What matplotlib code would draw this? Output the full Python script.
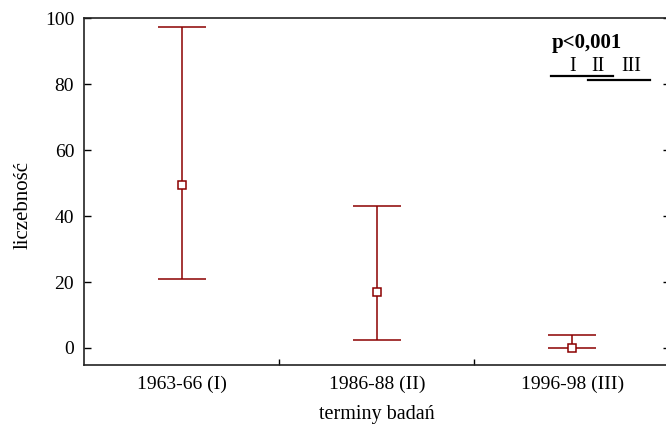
import matplotlib
matplotlib.use("Agg")
import matplotlib.pyplot as plt

# ==========================================================
# Data
# ==========================================================

categories = ["1963-66 (I)", "1986-88 (II)", "1996-98 (III)"]
means = [49.5, 17.0, 0.0]
upper = [97.2, 43.0, 4.0]
lower = [21.0, 2.5, 0.0]

y_ticks = [0, 20, 40, 60, 80, 100]

groups = ["I", "II", "III"]

color = "#8b0000"

plt.rcParams["font.family"] = ["Liberation Serif", "DejaVu Serif"]

# ==========================================================
# Figure
# ==========================================================

fig = plt.figure(figsize=(6.66, 4.25), dpi=100)
ax = fig.add_axes([0.126, 0.1412, 1.0056 - 0.126, 0.9576 - 0.1412])

x = list(range(1, len(categories) + 1))
err_low = [m - l for m, l in zip(means, lower)]
err_high = [u - m for m, u in zip(means, upper)]

ax.errorbar(
    x, means,
    yerr=[err_low, err_high],
    fmt="s",
    color=color,
    ecolor=color,
    elinewidth=1.1,
    capsize=17,
    capthick=1.1,
    markersize=5.5,
    markerfacecolor="white",
    markeredgecolor=color,
    markeredgewidth=1.1,
)

ax.set_xlim(0.5, 3.5)
ax.set_ylim(-5.15, 100)

ax.set_xticks(x)
ax.set_xticklabels(categories, fontsize=14)
ax.set_xticks([1.5, 2.5], minor=True)
ax.tick_params(axis="x", which="major", length=0, pad=8)
ax.tick_params(axis="x", which="minor", direction="in", length=4, width=1)

ax.set_yticks(y_ticks)
ax.tick_params(axis="y", direction="in", length=5, width=1, labelsize=14,
               right=True, pad=7)

ax.spines["right"].set_visible(False)
for s in ["left", "bottom", "top"]:
    ax.spines[s].set_linewidth(1.2)
    ax.spines[s].set_color("#222222")

ax.set_xlabel("terminy badań", fontsize=14.5, labelpad=8)
ax.set_ylabel("liczebność", fontsize=15)
ax.yaxis.set_label_coords(-0.088, 0.46)

# ==========================================================
# Significance annotation
# ==========================================================

ax.text(0.799, 0.929, "p<0,001", transform=ax.transAxes,
        fontsize=15, fontweight="bold", ha="left", va="center")
for gx, g in zip([0.834, 0.878, 0.935], groups):
    ax.text(gx, 0.859, g, transform=ax.transAxes,
            fontsize=14.5, ha="center", va="center")
ax.plot([0.797, 0.903], [0.833, 0.833], transform=ax.transAxes,
        color="black", lw=1.6, clip_on=False)
ax.plot([0.860, 0.966], [0.821, 0.821], transform=ax.transAxes,
        color="black", lw=1.6, clip_on=False)

fig.savefig("out.png", dpi=100)
